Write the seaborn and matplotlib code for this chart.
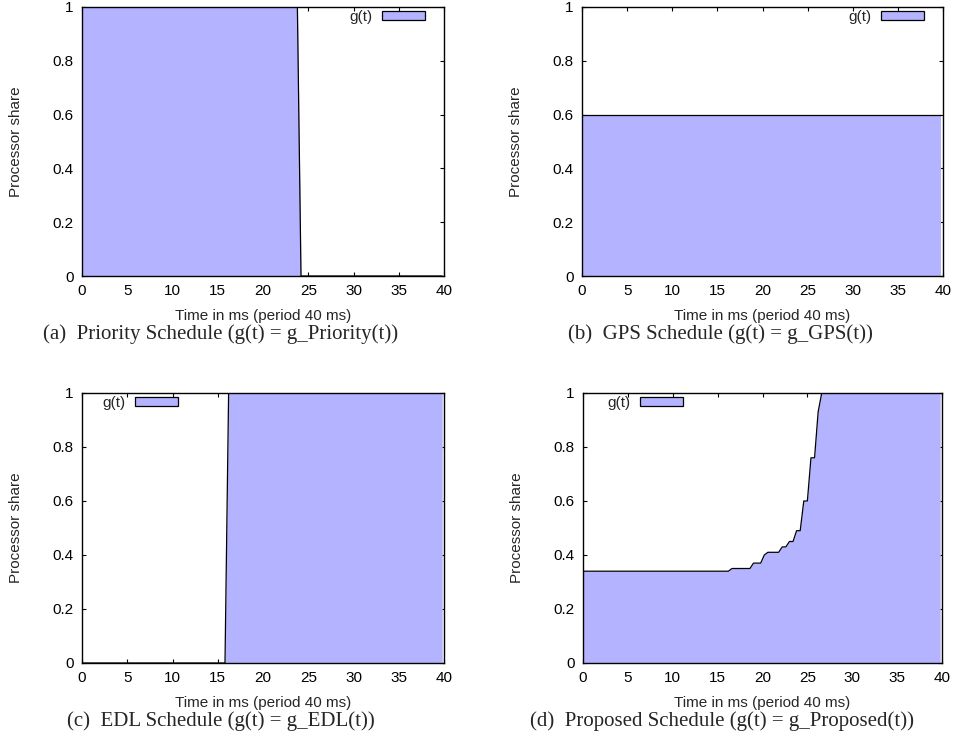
import matplotlib
matplotlib.use('Agg')
import matplotlib.pyplot as plt
from matplotlib.patches import Patch
import seaborn as sns

# share of the processor over one 40 ms period
t_priority = [0, 23.8, 24.2, 39.8]
g_priority = [1.0, 1.0, 0.0, 0.0]

t_gps = [0, 39.8]
g_gps = [0.6, 0.6]

t_edl = [0, 15.8, 16.2, 39.8]
g_edl = [0.0, 0.0, 1.0, 1.0]

t_proposed = [0, 16.2, 16.6, 18.6, 19.0, 19.8, 20.2, 20.6, 21.8, 22.2, 22.6,
              23.0, 23.4, 23.8, 24.2, 24.6, 25.0, 25.4, 25.8, 26.2, 26.6, 39.8]
g_proposed = [0.34, 0.34, 0.35, 0.35, 0.37, 0.37, 0.40, 0.41, 0.41, 0.43, 0.43,
              0.45, 0.45, 0.49, 0.49, 0.60, 0.60, 0.76, 0.76, 0.93, 1.0, 1.0]

x_ticks = [0, 5, 10, 15, 20, 25, 30, 35, 40]
y_ticks = [0, 0.2, 0.4, 0.6, 0.8, 1]
y_ticklabels = ['0', '0.2', '0.4', '0.6', '0.8', '1']

captions = ['(a)  Priority Schedule (g(t) = g_Priority(t))',
            '(b)  GPS Schedule (g(t) = g_GPS(t))',
            '(c)  EDL Schedule (g(t) = g_EDL(t))',
            '(d)  Proposed Schedule (g(t) = g_Proposed(t))']

fill_color = '#b3b3ff'

sns.set_style('ticks')
plt.rcParams['font.family'] = ['Liberation Sans', 'DejaVu Sans']

fig = plt.figure(figsize=(9.56, 7.4), dpi=100)

W, H = 956.0, 740.0
# axes boxes in pixels: left, top, right, bottom
boxes = [(82, 7, 444, 276), (582, 7, 943, 276),
         (82, 393, 444, 663), (583, 393, 942, 663)]
series = [(t_priority, g_priority), (t_gps, g_gps),
          (t_edl, g_edl), (t_proposed, g_proposed)]
# legend anchors (axes coords) and location
leg_pos = [('upper right', (0.948, 0.99)), ('upper right', (0.947, 0.99)),
           ('upper left', (0.055, 0.99)), ('upper left', (0.067, 0.99))]
cap_pos = [(221, 334), (720, 334), (221, 721), (722, 721)]

for i, (box, (t, g)) in enumerate(zip(boxes, series)):
    l, tp, r, b = box
    ax = fig.add_axes([l / W, 1 - b / H, (r - l) / W, (b - tp) / H])
    ax.fill_between(t, g, 0, color=fill_color, linewidth=0)
    sns.lineplot(x=t, y=g, ax=ax, color='black', linewidth=0.9,
                 estimator=None, sort=False)
    ax.set_xlim(0, 40)
    ax.set_ylim(0, 1)
    ax.set_xticks(x_ticks)
    ax.set_yticks(y_ticks)
    ax.set_yticklabels(y_ticklabels)
    ax.tick_params(direction='in', top=True, right=True, length=3,
                   width=0.8, labelsize=11, pad=6, colors='black')
    for s in ax.spines.values():
        s.set_linewidth(1.0)
        s.set_color('black')
    ax.set_xlabel('Time in ms (period 40 ms)', fontsize=11)
    ax.set_ylabel('Processor share', fontsize=11)
    ax.xaxis.set_label_coords(0.5, -0.123)
    ax.yaxis.set_label_coords(-0.163, 0.5)

    loc, anchor = leg_pos[i]
    ax.legend(handles=[Patch(facecolor=fill_color, edgecolor='black', linewidth=0.9)],
              labels=['g(t)'], loc=loc, bbox_to_anchor=anchor, frameon=False,
              markerfirst=False, handlelength=2.8, handleheight=0.5,
              handletextpad=0.65, borderpad=0, borderaxespad=0, fontsize=11)

    cx, cy = cap_pos[i]
    fig.text(cx / W, 1 - cy / H, captions[i], ha='center', va='center',
             fontsize=15, family=['Liberation Serif', 'DejaVu Serif'])

plt.savefig('out.png', dpi=100)
